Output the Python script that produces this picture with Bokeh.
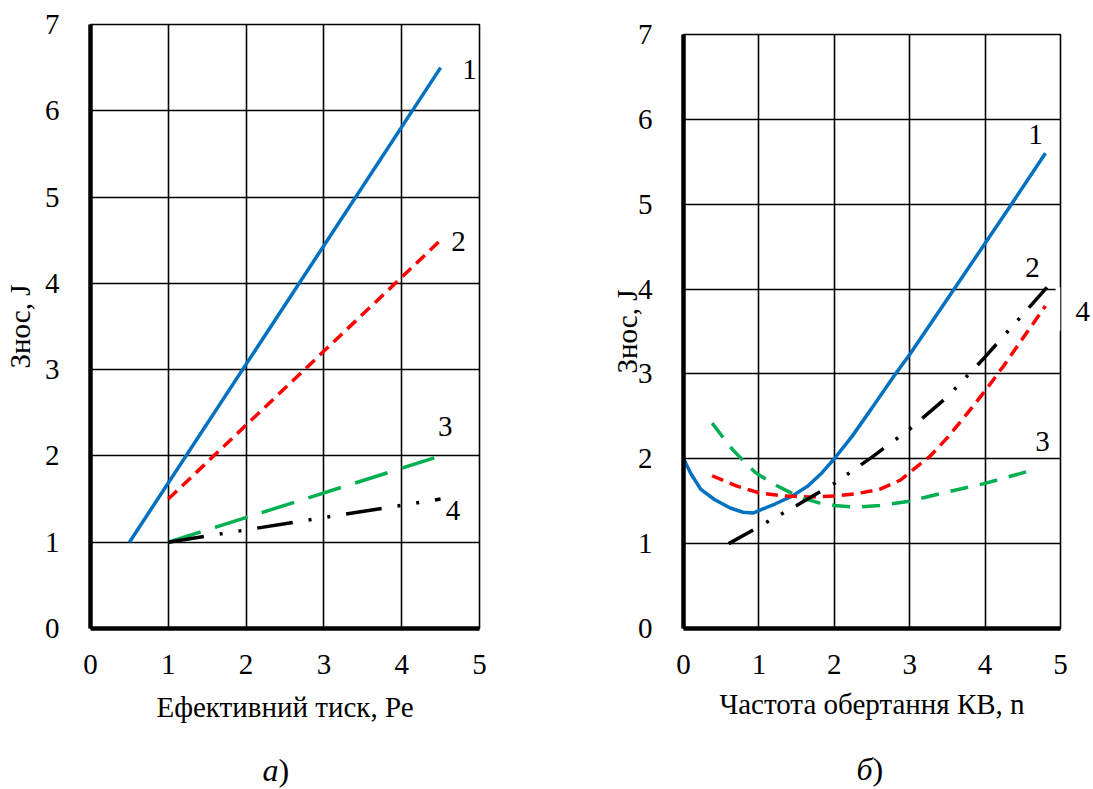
from bokeh.plotting import figure
from bokeh.models import Label, FixedTicker, LinearAxis, BoxAnnotation, ColumnDataSource
from bokeh.layouts import row, column
from bokeh.core.properties import value
from bokeh.embed import file_html
from bokeh.resources import INLINE

# ---------------- data: chart a) ----------------
a_x1 = [0.5, 4.5]
a_y1 = [1.0, 6.5]
a_x2 = [1.0, 4.5]
a_y2 = [1.5, 4.5]
a_x3 = [1.0, 4.5]
a_y3 = [1.0, 2.0]
a_x4 = [1.0, 4.5]
a_y4 = [1.0, 1.5]
a_labels = ["1", "2", "3", "4"]
a_label_x = [4.87, 4.73, 4.56, 4.66]
a_label_y = [6.48, 4.48, 2.34, 1.37]

# ---------------- data: chart б) ----------------
b_x1 = [0, 0.1, 0.23, 0.41, 0.62, 0.79, 0.92, 1.0, 1.22, 1.44, 1.65, 1.82, 2.0, 2.24, 2.5, 2.81, 3.0, 3.59, 4.35, 4.8]
b_y1 = [2.0, 1.82, 1.64, 1.52, 1.42, 1.37, 1.36, 1.39, 1.47, 1.56, 1.68, 1.82, 2.0, 2.27, 2.6, 3.0, 3.23, 4.0, 5.0, 5.6]
b_x2 = [0.38, 0.7, 1.0, 1.35, 1.65, 2.0, 2.3, 2.6, 2.88, 3.0, 3.27, 3.5, 3.75, 4.0, 4.25, 4.5, 4.8]
b_y2 = [1.80, 1.68, 1.60, 1.56, 1.55, 1.56, 1.59, 1.64, 1.75, 1.84, 2.03, 2.25, 2.52, 2.8, 3.1, 3.42, 3.8]
b_x3 = [0.38, 0.5, 0.65, 0.8, 0.95, 1.2, 1.4, 1.6, 1.8, 2.0, 2.3, 2.6, 3.0, 3.5, 4.0, 4.6]
b_y3 = [2.42, 2.28, 2.11, 1.97, 1.84, 1.70, 1.61, 1.53, 1.48, 1.45, 1.43, 1.45, 1.50, 1.61, 1.71, 1.86]
b_x4 = [0.6, 1.0, 1.5, 2.0, 2.5, 3.0, 3.5, 4.0, 4.5, 4.82]
b_y4 = [1.0, 1.2, 1.45, 1.71, 2.02, 2.35, 2.73, 3.2, 3.7, 4.02]
b_labels = ["1", "2", "3"]
b_label_x = [4.67, 4.63, 4.76]
b_label_y = [5.82, 4.25, 2.2]
b_label4 = "4"
b_label4_y = 3.73

x_ticks = [0, 1, 2, 3, 4, 5]
y_ticks = [0, 1, 2, 3, 4, 5, 6, 7]
y_title = "Знос, J"
a_x_title = "Ефективний тиск, Ре"
b_x_title = "Частота обертання КВ, n"
captions = ["а", ")", "б", ")"]
caption_italic = [True, False, True, False]

BLUE = "#0070C0"
RED = "#FF0000"
GREEN = "#00B050"
FONT = "Liberation Serif, Times New Roman, serif"
TICK_SIZE = "29px"
TITLE_SIZE = "29px"

H = 735          # visible height of the chart row
TOP_PAD = 44     # reserved top border, pulled back with a negative margin


def make_fig(width, bl, br, frame_top, frame_bottom, xtitle, ylab_standoff, xlab_standoff):
    frame_h = frame_bottom - frame_top
    bottom = H - frame_bottom
    p = figure(width=width, height=TOP_PAD + frame_h + bottom,
               x_range=(0, 5), y_range=(0, 7), title=None,
               output_backend="svg", toolbar_location=None,
               min_border_left=bl, min_border_right=br,
               min_border_top=TOP_PAD, min_border_bottom=bottom)
    p.margin = (frame_top - TOP_PAD, 0, 0, 0)
    p.background_fill_color = "white"
    p.border_fill_color = "white"
    p.outline_line_color = "black"
    p.outline_line_width = 1.6
    p.outline_line_alpha = 1
    for ax in (p.xaxis[0], p.yaxis[0]):
        ax.axis_line_width = 4.5
        ax.axis_line_color = "black"
        ax.major_tick_line_color = None
        ax.minor_tick_line_color = None
        ax.major_label_text_font = FONT
        ax.major_label_text_font_size = TICK_SIZE
        ax.major_label_text_color = "black"
        ax.axis_label_text_font = FONT
        ax.axis_label_text_font_size = TITLE_SIZE
        ax.axis_label_text_font_style = "normal"
        ax.axis_label_text_color = "black"
    p.xaxis.ticker = FixedTicker(ticks=x_ticks)
    p.yaxis.ticker = FixedTicker(ticks=y_ticks)
    p.xaxis.major_label_standoff = 20
    p.yaxis.major_label_standoff = 25
    p.xaxis.axis_label = xtitle
    p.yaxis.axis_label = y_title
    p.xaxis.axis_label_standoff = xlab_standoff
    p.yaxis.axis_label_standoff = ylab_standoff
    p.xgrid.ticker = FixedTicker(ticks=x_ticks)
    p.ygrid.ticker = FixedTicker(ticks=y_ticks)
    for g in (p.xgrid[0], p.ygrid[0]):
        g.grid_line_color = "black"
        g.grid_line_width = 1.6
        g.grid_line_alpha = 1
    return p


def add_labels(p, texts, xs, ys):
    for t, x, y in zip(texts, xs, ys):
        p.add_layout(Label(x=x, y=y, text=t, text_font=FONT, text_font_size=TICK_SIZE,
                           text_color="black", text_align="center", text_baseline="middle"))


# ---------- chart a) ----------
pa = make_fig(560, 86, 81, 24, 628, a_x_title, 6, 14)
pa.line(a_x1, a_y1, line_color=BLUE, line_width=3.5)
pa.line(a_x2, a_y2, line_color=RED, line_width=3.5, line_dash="12 7")
pa.line(a_x3, a_y3, line_color=GREEN, line_width=3.5, line_dash="34 15")
pa.line(a_x4, a_y4, line_color="black", line_width=3.5, line_dash="36 16 3 16 3 16")
add_labels(pa, a_labels, a_label_x, a_label_y)

# ---------- chart б) ----------
pb = make_fig(533, 123, 28, 34, 632, b_x_title, -8, 11)
pb.line(b_x1, b_y1, line_color=BLUE, line_width=3.5)
pb.line(b_x2, b_y2, line_color=RED, line_width=3.5, line_dash="12 7")
pb.line(b_x3, b_y3, line_color=GREEN, line_width=3.5, line_dash="18 12")
pb.line(b_x4, b_y4, line_color="black", line_width=3.5, line_dash="28 15 3 14 3 14")
add_labels(pb, b_labels, b_label_x, b_label_y)
# white break in the right border behind label "4"
pb.add_layout(BoxAnnotation(left=4.935, bottom=3.51, top=4.02, fill_color="white",
                            fill_alpha=1, line_color=None, level="annotation"))
# label "4" placed just outside the frame, on the right
ax4 = LinearAxis(ticker=FixedTicker(ticks=[b_label4_y]),
                 major_label_overrides={b_label4_y: b_label4})
ax4.axis_line_color = None
ax4.major_tick_line_color = None
ax4.minor_tick_line_color = None
ax4.major_label_standoff = 9
ax4.major_label_text_font = FONT
ax4.major_label_text_font_size = TICK_SIZE
ax4.major_label_text_color = "black"
pb.add_layout(ax4, "right")

# ---------- captions а) б) ----------
cap_h = 789 - H
pc = figure(width=1093, height=cap_h, x_range=(0, 1093), y_range=(cap_h, 0),
            output_backend="svg", toolbar_location=None, min_border=0, title=None)
pc.axis.visible = False
pc.grid.visible = False
pc.outline_line_color = None
pc.background_fill_color = "white"
pc.border_fill_color = "white"
cap_x = [278, 278, 872, 872]
cap_y = [769 - H, 769 - H, 768 - H, 768 - H]
src_it = ColumnDataSource(dict(x=[x for x, i in zip(cap_x, caption_italic) if i],
                               y=[y for y, i in zip(cap_y, caption_italic) if i],
                               t=[c for c, i in zip(captions, caption_italic) if i]))
src_up = ColumnDataSource(dict(x=[x for x, i in zip(cap_x, caption_italic) if not i],
                               y=[y for y, i in zip(cap_y, caption_italic) if not i],
                               t=[c for c, i in zip(captions, caption_italic) if not i]))
pc.text(x="x", y="y", text="t", source=src_it, text_font=value(FONT),
        text_font_size="32px", text_font_style="italic", text_align="right",
        text_baseline="middle", text_color="black")
pc.text(x="x", y="y", text="t", source=src_up, text_font=value(FONT),
        text_font_size="32px", text_align="left", text_baseline="middle",
        text_color="black")

layout = column(row(pa, pb), pc)
open("out.html", "w").write(file_html(layout, INLINE))
